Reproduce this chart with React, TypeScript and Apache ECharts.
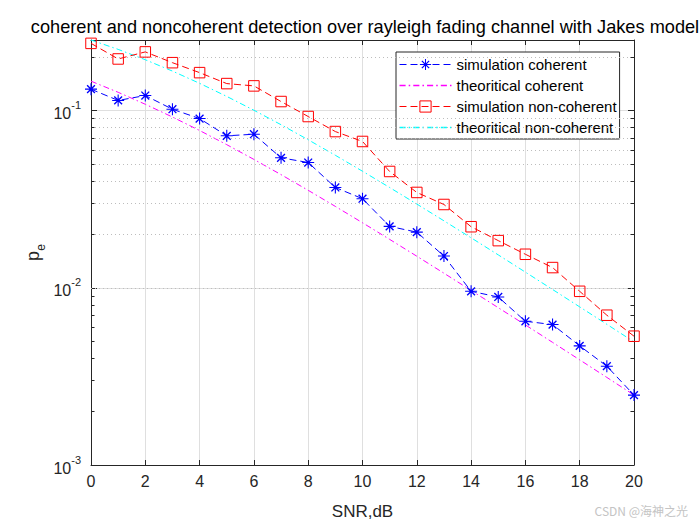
import React, { useEffect, useRef } from "react";
import * as echarts from "echarts";

const snr = [0, 1, 2, 3, 4, 5, 6, 7, 8, 9, 10, 11, 12, 13, 14, 15, 16, 17, 18, 19, 20];
const simCoherent = [0.132, 0.114, 0.1215, 0.1017, 0.0901, 0.072, 0.0735, 0.0541, 0.0509, 0.0368, 0.0318, 0.0222, 0.0206, 0.0151, 0.00955, 0.00887, 0.00647, 0.0062, 0.0047, 0.00361, 0.00248];
const theoCoherent = [0.14645, 0.12673, 0.10849, 0.09191, 0.07714, 0.06418, 0.053, 0.04348, 0.03546, 0.02878, 0.02327, 0.01875, 0.01507, 0.01208, 0.00966, 0.00772, 0.00617, 0.00492, 0.00392, 0.00312, 0.00248];
const simNoncoherent = [0.2393, 0.1954, 0.2142, 0.1862, 0.1636, 0.1419, 0.1377, 0.1124, 0.0925, 0.0761, 0.0669, 0.0453, 0.0345, 0.0295, 0.0221, 0.01845, 0.01545, 0.013, 0.00955, 0.007, 0.00533];
const theoNoncoherent = [0.25, 0.22135, 0.19343, 0.16693, 0.14237, 0.12013, 0.10038, 0.08317, 0.0684, 0.05591, 0.04545, 0.03679, 0.02968, 0.02386, 0.01914, 0.01533, 0.01225, 0.00978, 0.0078, 0.00622, 0.00495];
const yMinorTicks = [0.002, 0.003, 0.004, 0.005, 0.006, 0.007, 0.008, 0.009, 0.02, 0.03, 0.04, 0.05, 0.06, 0.07, 0.08, 0.09, 0.2];
const seriesNames = ["simulation coherent", "theoritical coherent", "simulation non-coherent", "theoritical non-coherent"];
const seriesColors = ["#0000ff", "#ff00ff", "#ff0000", "#00ffff"];

const X_MIN = 0;
const X_MAX = 20;
const Y_MIN = 0.001;
const Y_MAX = 0.25;

const FONT = "'Liberation Sans', Arial, sans-serif";
const AX = "#262626";
const DASH = [7, 4];
const DASHDOT = [6, 3, 1.5, 3];
const LEGEND_W = 52;

const STAR =
  "path://M9.1,0 L10.9,0 L10.9,20 L9.1,20 Z M0,9.1 L20,9.1 L20,10.9 L0,10.9 Z M4.3,2.7 L17.3,15.7 L15.7,17.3 L2.7,4.3 Z M17.3,4.3 L4.3,17.3 L2.7,15.7 L15.7,2.7 Z";

function dashIcon(pattern: number[], width: number, t: number) {
  let x = 0;
  let i = 0;
  let d = "";
  while (x < width) {
    const len = pattern[i % pattern.length];
    if (i % 2 === 0) {
      const w = Math.min(len, width - x);
      d += `M${x},0 L${x + w},0 L${x + w},${t} L${x},${t} Z `;
    }
    x += len;
    i++;
  }
  return "path://" + d.trim();
}

function pairs(arr: number[]) {
  return snr.map((x, i) => [x, arr[i]]);
}

function logLabel(v: number) {
  const e = Math.round(Math.log10(v));
  const p = Math.pow(10, e);
  if (Math.abs(v - p) / p > 1e-6) return "";
  return `{b|10}{s|${e}}`;
}

export default function App() {
  const ref = useRef<HTMLDivElement>(null);
  useEffect(() => {
    if (!ref.current) return;
    const chart = echarts.init(ref.current, null, { renderer: "svg" });
    const minorTickLen = 0.13;
    const ddIcon = dashIcon(DASHDOT, LEGEND_W, 1.3);
    const option: any = {
      animation: false,
      backgroundColor: "#fff",
      textStyle: { fontFamily: FONT },
      title: {
        text: "coherent and noncoherent detection over rayleigh fading channel with Jakes model",
        left: 360,
        textAlign: "center",
        top: 13,
        textStyle: { fontFamily: FONT, fontSize: 18.2, fontWeight: "normal", color: "#000" },
      },
      grid: { left: 91, right: 66, top: 40, bottom: 59 },
      legend: {
        data: [
          { name: seriesNames[0], lineStyle: { color: seriesColors[0], width: 1, type: DASH } },
          {
            name: seriesNames[1],
            icon: ddIcon,
            itemStyle: { color: seriesColors[1], borderColor: seriesColors[1], borderWidth: 0, opacity: 1 },
          },
          {
            name: seriesNames[2],
            itemStyle: { borderWidth: 1, borderColor: seriesColors[2], color: "rgba(255,255,255,0)" },
            lineStyle: { color: seriesColors[2], width: 1, type: DASH },
          },
          {
            name: seriesNames[3],
            icon: ddIcon,
            itemStyle: { color: seriesColors[3], borderColor: seriesColors[3], borderWidth: 0, opacity: 1 },
          },
        ],
        orient: "vertical",
        left: 396,
        top: 52,
        padding: [5, 3, 4, 3],
        itemWidth: LEGEND_W,
        itemHeight: 14,
        itemGap: 6,
        symbolKeepAspect: true,
        borderColor: AX,
        borderWidth: 1,
        backgroundColor: "#fff",
        textStyle: { fontFamily: FONT, fontSize: 15, color: "#000" },
      },
      xAxis: [
        {
          type: "value",
          min: X_MIN,
          max: X_MAX,
          interval: 2,
          name: "SNR,dB",
          nameLocation: "middle",
          nameGap: 38,
          nameTextStyle: { fontFamily: FONT, fontSize: 17, color: AX },
          axisLine: { show: true, lineStyle: { color: AX, width: 1 } },
          axisTick: { show: true, inside: true, length: 5, lineStyle: { color: AX } },
          axisLabel: { fontFamily: FONT, fontSize: 16, color: AX, margin: 8 },
          splitLine: { show: true, lineStyle: { color: "#dfdfdf", width: 1 } },
        },
        {
          type: "value",
          position: "top",
          min: X_MIN,
          max: X_MAX,
          interval: 2,
          axisLine: { show: true, onZero: false, lineStyle: { color: AX, width: 1 } },
          axisTick: { show: true, inside: true, length: 5, lineStyle: { color: AX } },
          axisLabel: { show: false },
          splitLine: { show: false },
        },
      ],
      yAxis: [
        {
          type: "log",
          logBase: 10,
          min: Y_MIN,
          max: Y_MAX,
          axisLine: { show: true, onZero: false, lineStyle: { color: AX, width: 1 } },
          axisTick: { show: true, inside: true, length: 6, lineStyle: { color: AX } },
          axisLabel: {
            formatter: logLabel,
            margin: 10,
            rich: {
              b: { fontFamily: FONT, fontSize: 16, color: AX, lineHeight: 22, verticalAlign: "bottom" },
              s: { fontFamily: FONT, fontSize: 11, color: AX, lineHeight: 12, verticalAlign: "top" },
            },
          },
          splitLine: { show: true, lineStyle: { color: "#dfdfdf", width: 1 } },
        },
        {
          type: "log",
          logBase: 10,
          min: Y_MIN,
          max: Y_MAX,
          position: "right",
          axisLine: { show: true, onZero: false, lineStyle: { color: AX, width: 1 } },
          axisTick: { show: true, inside: true, length: 6, lineStyle: { color: AX } },
          axisLabel: { show: false },
          splitLine: { show: false },
        },
      ],
      graphic: [
        {
          type: "text",
          x: 33,
          y: 256,
          rotation: Math.PI / 2,
          style: { text: "p", fontFamily: FONT, fontSize: 18, fill: AX, align: "center", verticalAlign: "middle" },
        },
        {
          type: "text",
          x: 40.5,
          y: 247.5,
          rotation: Math.PI / 2,
          style: { text: "e", fontFamily: FONT, fontSize: 12, fill: AX, align: "center", verticalAlign: "middle" },
        },
        {
          type: "text",
          right: 12,
          top: 504,
          style: { text: "CSDN @海神之光", fontFamily: "'Noto Sans CJK SC', sans-serif", fontSize: 12, fill: "#c4c4c4" },
        },
      ],
      series: [
        {
          name: "minor-grid",
          type: "line",
          data: [],
          z: 1,
          silent: true,
          markLine: {
            silent: true,
            symbol: "none",
            label: { show: false },
            animation: false,
            lineStyle: { color: "#bdbdbd", type: [1, 3], width: 1 },
            data: yMinorTicks.map((v) => ({ yAxis: v })),
          },
        },
        {
          name: "minor-ticks",
          type: "line",
          data: [],
          z: 3,
          silent: true,
          markLine: {
            silent: true,
            symbol: "none",
            label: { show: false },
            animation: false,
            lineStyle: { color: AX, type: "solid", width: 1 },
            data: [
              ...yMinorTicks.map((v) => [{ coord: [X_MIN, v] }, { coord: [X_MIN + minorTickLen, v] }]),
              ...yMinorTicks.map((v) => [{ coord: [X_MAX - minorTickLen, v] }, { coord: [X_MAX, v] }]),
            ],
          },
        },
        {
          name: seriesNames[0],
          type: "line",
          data: pairs(simCoherent),
          z: 5,
          symbol: STAR,
          symbolSize: 12,
          showSymbol: true,
          lineStyle: { color: seriesColors[0], width: 1, type: DASH },
          itemStyle: { color: seriesColors[0] },
        },
        {
          name: seriesNames[1],
          type: "line",
          data: pairs(theoCoherent),
          z: 4,
          symbol: "none",
          lineStyle: { color: seriesColors[1], width: 1, type: DASHDOT },
          itemStyle: { color: seriesColors[1] },
        },
        {
          name: seriesNames[2],
          type: "line",
          data: pairs(simNoncoherent),
          z: 5,
          symbol: "rect",
          symbolSize: 10.5,
          showSymbol: true,
          lineStyle: { color: seriesColors[2], width: 1, type: DASH },
          itemStyle: { color: "rgba(255,255,255,0)", borderColor: seriesColors[2], borderWidth: 1 },
        },
        {
          name: seriesNames[3],
          type: "line",
          data: pairs(theoNoncoherent),
          z: 4,
          symbol: "none",
          lineStyle: { color: seriesColors[3], width: 1, type: DASHDOT },
          itemStyle: { color: seriesColors[3] },
        },
      ],
    };
    chart.setOption(option);
    return () => chart.dispose();
  }, []);
  return <div ref={ref} style={{ position: "fixed", left: 0, top: 0, width: 700, height: 525 }} />;
}
